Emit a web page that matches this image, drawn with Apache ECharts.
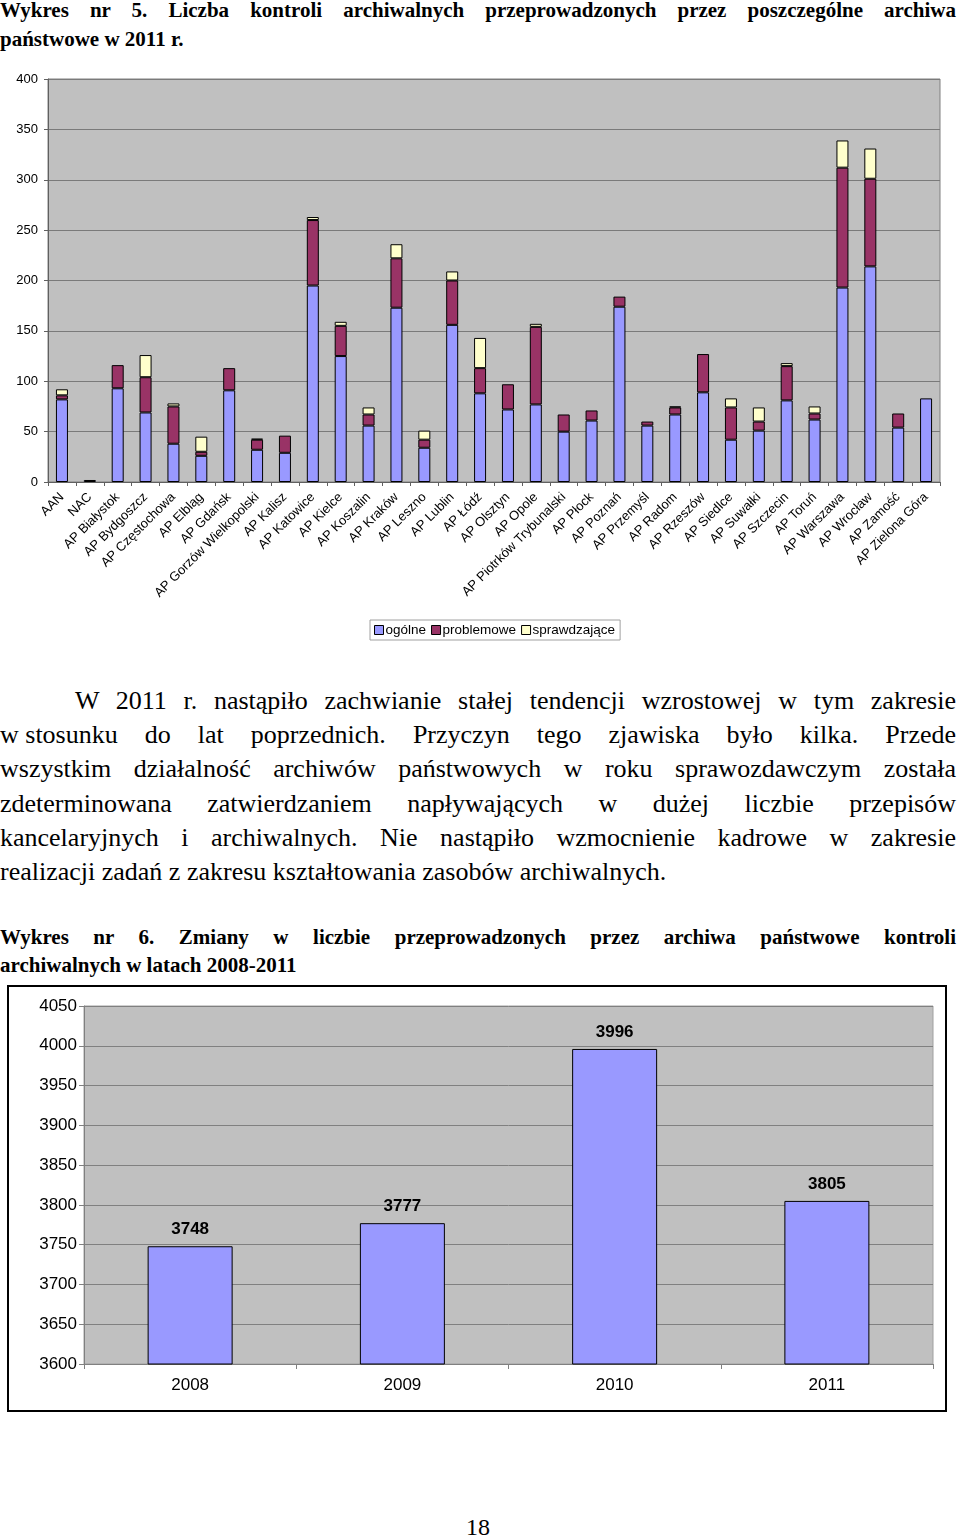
<!DOCTYPE html>
<html>
<head>
<meta charset="utf-8">
<script src="https://cdn.jsdelivr.net/npm/echarts@6/dist/echarts.min.js"></script>
<style>
  html, body { margin: 0; padding: 0; background: #fff; }
  body { width: 960px; height: 1539px; position: relative; overflow: hidden; font-family: "Liberation Serif", serif; color: #000; }
  .line { position: absolute; left: 0; width: 956px; white-space: nowrap; text-align: justify; text-align-last: justify; }
  .last { text-align: left; text-align-last: left; }
  .t { font-weight: bold; font-size: 21px; line-height: 28px; }
  .p { font-size: 26px; line-height: 34px; }
  .nb { display: inline-block; }
  #c1 { position: absolute; left: 0; top: 60px; width: 960px; height: 590px; }
  #c2 { position: absolute; left: 7px; top: 985px; width: 940px; height: 427px; border: 2px solid #000; box-sizing: border-box; }
  #pg { position: absolute; left: 0; width: 956px; top: 1512px; text-align: center; font-size: 24px; line-height: 30px; }
</style>
</head>
<body>
<div class="line t" style="top:-4px;">Wykres nr 5. Liczba kontroli archiwalnych przeprowadzonych przez poszczególne archiwa</div>
<div class="line t last" style="top:25px;">państwowe w 2011 r.</div>

<div id="c1"></div>

<div class="line p" style="top:684px; left:75px; width:881px;">W 2011 r. nastąpiło zachwianie stałej tendencji wzrostowej w tym zakresie</div>
<div class="line p" style="top:718px;"><span class="nb">w&nbsp;stosunku</span> do lat poprzednich. Przyczyn tego zjawiska było kilka. Przede</div>
<div class="line p" style="top:752px;">wszystkim działalność archiwów państwowych w roku sprawozdawczym została</div>
<div class="line p" style="top:787px;">zdeterminowana zatwierdzaniem napływających w dużej liczbie przepisów</div>
<div class="line p" style="top:821px;">kancelaryjnych i archiwalnych. Nie nastąpiło wzmocnienie kadrowe w zakresie</div>
<div class="line p last" style="top:855px;">realizacji zadań z zakresu kształtowania zasobów archiwalnych.</div>

<div class="line t" style="top:923px;">Wykres nr 6. Zmiany w liczbie przeprowadzonych przez archiwa państwowe kontroli</div>
<div class="line t last" style="top:951px;">archiwalnych w latach 2008-2011</div>

<div id="c2"></div>

<div id="pg">18</div>

<script>
// ---- Chart 1 data ----
const archives = ["AAN","NAC","AP Białystok","AP Bydgoszcz","AP Częstochowa","AP Elbląg","AP Gdańsk","AP Gorzów Wielkopolski","AP Kalisz","AP Katowice","AP Kielce","AP Koszalin","AP Kraków","AP Leszno","AP Lublin","AP Łódź","AP Olsztyn","AP Opole","AP Piotrków Trybunalski","AP Płock","AP Poznań","AP Przemyśl","AP Radom","AP Rzeszów","AP Siedlce","AP Suwałki","AP Szczecin","AP Toruń","AP Warszawa","AP Wrocław","AP Zamość","AP Zielona Góra"];
const ogolne      = [82, 2, 93, 69, 38, 26, 91, 32, 29, 195, 125, 56, 173, 34, 156, 88, 72, 77, 50, 61, 174, 56, 67, 89, 42, 51, 81, 62, 193, 214, 54, 83];
const problemowe  = [4, 0, 23, 35, 37, 4, 22, 10, 17, 65, 30, 11, 49, 8, 44, 25, 25, 77, 17, 10, 10, 4, 7, 38, 32, 9, 34, 6, 119, 87, 14, 0];
const sprawdzajace= [6, 0, 0, 22, 3, 15, 0, 1, 0, 3, 4, 7, 14, 9, 9, 30, 0, 3, 0, 0, 0, 0, 1, 0, 9, 14, 3, 7, 27, 30, 0, 0];
const seriesNames = ["ogólne","problemowe","sprawdzające"];

// ---- Chart 2 data ----
const years = ["2008","2009","2010","2011"];
const totals = [3748, 3777, 3996, 3805];

const font = '"Liberation Sans", Arial, sans-serif';
const colors = ['#9999FF', '#993366', '#FFFFCC'];
const nz = v => v === 0 ? '-' : v;

const c1 = echarts.init(document.getElementById('c1'), null, {renderer: 'canvas'});
c1.setOption({
  animation: false,
  textStyle: { fontFamily: font },
  grid: { left: 48, top: 19, width: 892, height: 403, show: true, backgroundColor: '#C0C0C0', borderColor: '#808080', borderWidth: 1 },
  legend: {
    top: 560, left: 370,
    data: seriesNames,
    itemWidth: 9, itemHeight: 9, itemGap: 5,
    padding: [3, 5, 3, 4],
    borderColor: '#A0A0A0', borderWidth: 1,
    textStyle: { fontFamily: font, fontSize: 13.5, color: '#000', padding: [0, 0, 0, -3] },
    icon: 'rect',
    itemStyle: { borderColor: '#000', borderWidth: 1 }
  },
  xAxis: {
    type: 'category', data: archives,
    axisLine: { lineStyle: { color: '#606060', width: 1 } },
    axisTick: { show: true, length: 4, lineStyle: { color: '#606060' } },
    axisLabel: { rotate: 45, interval: 0, fontSize: 13, color: '#000', fontFamily: font, margin: 13 }
  },
  yAxis: {
    type: 'value', min: 0, max: 400, interval: 50,
    axisLine: { show: true, lineStyle: { color: '#606060' } },
    axisTick: { show: true, length: 4, lineStyle: { color: '#606060' } },
    axisLabel: { fontSize: 13, color: '#000', fontFamily: font, margin: 10 },
    splitLine: { lineStyle: { color: '#7A7A7A', width: 1 } }
  },
  series: [ogolne, problemowe, sprawdzajace].map((arr, i) => ({
    name: seriesNames[i], type: 'bar', stack: 'a', barWidth: 12,
    data: arr.map(nz),
    itemStyle: { color: colors[i], borderColor: '#000', borderWidth: 1 }
  }))
});

const c2 = echarts.init(document.getElementById('c2'), null, {renderer: 'canvas'});
c2.setOption({
  animation: false,
  textStyle: { fontFamily: font },
  grid: { left: 75, top: 19, width: 849, height: 358, show: true, backgroundColor: '#C0C0C0', borderColor: '#A0A0A0', borderWidth: 1 },
  xAxis: {
    type: 'category', data: years,
    axisLine: { lineStyle: { color: '#808080' } },
    axisTick: { show: true, length: 5, lineStyle: { color: '#808080' } },
    axisLabel: { fontSize: 17, color: '#000', fontFamily: font, margin: 13 }
  },
  yAxis: {
    type: 'value', min: 3600, max: 4050, interval: 50,
    axisLine: { show: true, lineStyle: { color: '#808080' } },
    axisTick: { show: true, length: 5, lineStyle: { color: '#808080' } },
    axisLabel: { fontSize: 17, color: '#000', fontFamily: font, margin: 7, formatter: v => String(v) },
    splitLine: { lineStyle: { color: '#808080', width: 1 } }
  },
  series: [{
    type: 'bar', data: totals, barWidth: 85,
    itemStyle: { color: '#9999FF', borderColor: '#000', borderWidth: 1 },
    label: { show: true, position: 'top', distance: 8, fontSize: 17, fontWeight: 'bold', color: '#000', fontFamily: font }
  }]
});
</script>
</body>
</html>
